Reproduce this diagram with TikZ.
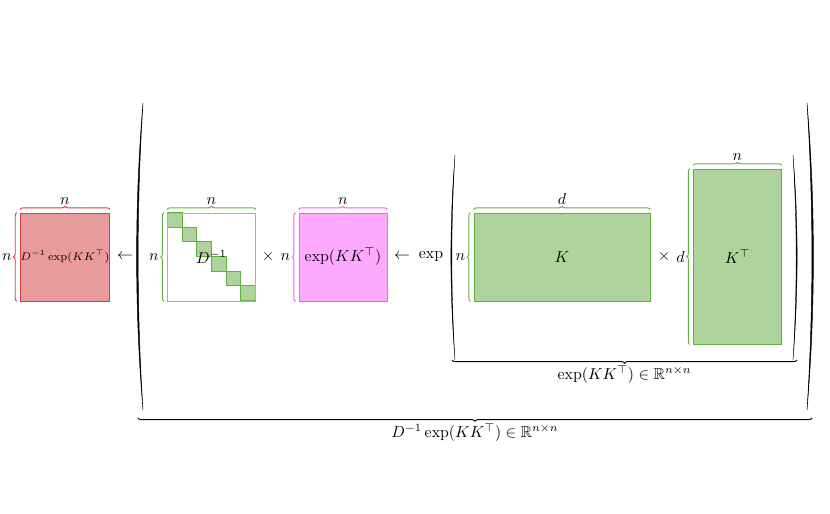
\documentclass[tikz,border=0pt]{standalone}
\usepackage{amsmath}
\usepackage{amssymb}
\usepackage{color}
\usetikzlibrary{decorations.pathreplacing,positioning}

\definecolor{redfill}{HTML}{E89B9B}
\definecolor{redline}{HTML}{E03C3C}
\definecolor{pinkfill}{HTML}{FDA9FD}
\definecolor{pinkline}{HTML}{FF55FF}
\definecolor{greenfill}{HTML}{AED49B}
\definecolor{greenline}{HTML}{62B043}

\tikzset{
    mat/.style={draw, line width=0.5pt, inner sep=0pt},
    sqmat/.style={mat, minimum width=55.4pt, minimum height=55.4pt},
    brc/.style={decorate, decoration={brace, amplitude=2pt}, line width=0.6pt},
    lbl/.style={inner sep=1.5pt, black},
    paren/.style={fill=black, draw=black, line width=0.3pt}
}

\begin{document}
\begin{tikzpicture}[x=0.63pt, y=0.63pt]
        \useasboundingbox (0,0) rectangle (830,514);

        % result
        \node[sqmat, fill=redfill, draw=redline] (dk) at (65,257) {\scriptsize $D^{-1}\exp(KK^\top)$};
        \draw[brc, redline] ([yshift=2pt]dk.north west) -- ([yshift=2pt]dk.north east) node[midway, above=1.5pt, lbl] {$n$};
        \draw[brc, redline] ([xshift=-2pt]dk.south west) -- ([xshift=-2pt]dk.north west) node[midway, left=1.5pt, lbl] {$n$};

        \node (arr1) at (125,257) {$\leftarrow$};

        % outer parentheses
        \draw[paren] (143,411) .. controls (134.5,310) and (134.5,205) .. (143,104)
                  .. controls (136.5,205) and (136.5,310) .. (143,411) -- cycle;
        \draw[paren] (807,411) .. controls (815.5,310) and (815.5,205) .. (807,104)
                  .. controls (813.5,205) and (813.5,310) .. (807,411) -- cycle;

        % D^{-1}
        \foreach \i in {0,...,5}
            \draw[greenline, fill=greenfill, line width=0.5pt] (167.5+\i*14.67,301.5-\i*14.67) rectangle ++(14.67,-14.67);
        \node[sqmat, draw=greenline!70] (dinv) at (211.5,257) {$D^{-1}$};
        \draw[brc, greenline] ([yshift=2pt]dinv.north west) -- ([yshift=2pt]dinv.north east) node[midway, above=1.5pt, lbl] {$n$};
        \draw[brc, greenline] ([xshift=-2pt]dinv.south west) -- ([xshift=-2pt]dinv.north west) node[midway, left=1.5pt, lbl] {$n$};

        \node (times1) at (268,257) {$\times$};

        % exp(KK^T)
        \node[sqmat, fill=pinkfill, draw=pinkline] (ekk) at (343,257) {$\exp(KK^\top)$};
        \draw[brc, pinkline] ([yshift=2pt]ekk.north west) -- ([yshift=2pt]ekk.north east) node[midway, above=1.5pt, lbl] {$n$};
        \draw[brc, pinkline] ([xshift=-2pt]ekk.south west) -- ([xshift=-2pt]ekk.north west) node[midway, left=1.5pt, lbl] {$n$};

        \node (arr2) at (402,257) {$\leftarrow$};
        \node (expop) at (431,257) {$\exp$};

        % inner parentheses
        \draw[paren, line width=0.2pt] (455,359) .. controls (449.5,290) and (449.5,224) .. (455,154)
                  .. controls (450.8,224) and (450.8,290) .. (455,359) -- cycle;
        \draw[paren, line width=0.2pt] (793,359) .. controls (798.5,290) and (798.5,224) .. (793,154)
                  .. controls (797.2,224) and (797.2,290) .. (793,359) -- cycle;

        % K
        \node[mat, fill=greenfill, draw=greenline, minimum width=110.9pt, minimum height=55.4pt] (k) at (562,257) {$K$};
        \draw[brc, greenline] ([yshift=2pt]k.north west) -- ([yshift=2pt]k.north east) node[midway, above=1.5pt, lbl] {$d$};
        \draw[brc, greenline] ([xshift=-2pt]k.south west) -- ([xshift=-2pt]k.north west) node[midway, left=1.5pt, lbl] {$n$};

        \node (times2) at (664,257) {$\times$};

        % K^T
        \node[mat, fill=greenfill, draw=greenline, minimum width=55.4pt, minimum height=110.3pt] (kt) at (737.5,257.5) {$K^\top$};
        \draw[brc, greenline] ([yshift=2pt]kt.north west) -- ([yshift=2pt]kt.north east) node[midway, above=1.5pt, lbl] {$n$};
        \draw[brc, greenline] ([xshift=-2pt]kt.south west) -- ([xshift=-2pt]kt.north west) node[midway, left=1.5pt, lbl] {$d$};

        % bottom braces
        \coordinate (inA) at (797,154);
        \coordinate (inB) at (452,154);
        \draw[brc] (inA) -- (inB) node[midway, below=2pt, lbl] {$\exp(KK^\top)\in\mathbb{R}^{n\times n}$};
        \coordinate (outA) at (812,96);
        \coordinate (outB) at (138,96);
        \draw[brc] (outA) -- (outB) node[midway, below=2pt, lbl] {$D^{-1}\exp(KK^\top)\in\mathbb{R}^{n\times n}$};
    \end{tikzpicture}
\end{document}
